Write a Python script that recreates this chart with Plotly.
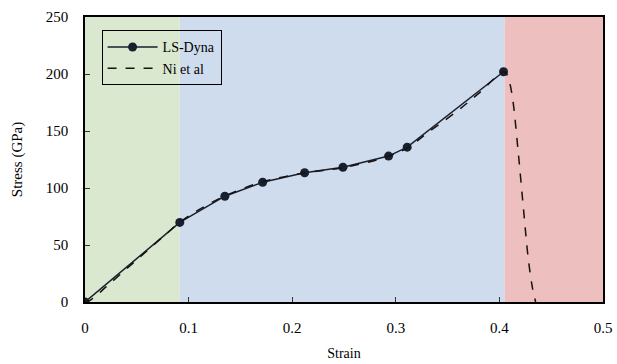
import plotly.graph_objects as go

# LS-Dyna simulation points
ls_strain = [0.0, 0.0915, 0.135, 0.1715, 0.212, 0.249, 0.293, 0.311, 0.404]
ls_stress = [0.0, 69.8, 92.8, 105.0, 113.4, 118.2, 128.0, 135.8, 202.0]

# Ni et al reference curve
ni_strain = [0.0, 0.004, 0.01, 0.02, 0.04, 0.06, 0.08, 0.0915, 0.11, 0.135, 0.17, 0.21,
             0.25, 0.29, 0.311, 0.33, 0.36, 0.38, 0.404, 0.407, 0.410, 0.413, 0.418,
             0.423, 0.428, 0.432, 0.435]
ni_stress = [0.0, 1.0, 5.0, 13.0, 29.0, 45.0, 61.0, 70.0, 81.0, 93.0, 105.0, 113.0,
             118.0, 127.0, 135.0, 148.0, 168.0, 183.0, 202.0, 200.0, 192.0, 177.0, 133.0,
             84.0, 37.0, 12.0, 0.0]

# Regions (strain ranges)
region_edges = [0.0, 0.0915, 0.405, 0.5]
region_colors = ["#d9e8cf", "#cfdcee", "#eebfbf"]

x_ticks = [0, 0.1, 0.2, 0.3, 0.4, 0.5]
x_ticktext = ["0", "0.1", "0.2", "0.3", "0.4", "0.5"]
y_ticks = [0, 50, 100, 150, 200, 250]

font_family = "Liberation Serif, Times New Roman, serif"
dark = "#17202e"

fig = go.Figure()

for i, c in enumerate(region_colors):
    fig.add_vrect(x0=region_edges[i], x1=region_edges[i + 1], fillcolor=c,
                  opacity=1, line_width=0, layer="below")

fig.add_trace(go.Scatter(
    x=ls_strain, y=ls_stress, mode="lines+markers", name="LS-Dyna",
    line=dict(color=dark, width=1.5),
    marker=dict(color=dark, size=9),
))
fig.add_trace(go.Scatter(
    x=ni_strain, y=ni_stress, mode="lines", name="Ni et al",
    line=dict(color="#1a1010", width=1.5, dash="dash"),
    line_shape="spline",
))

fig.update_layout(
    width=617, height=364,
    margin=dict(l=85, r=14, t=17, b=62, autoexpand=False),
    paper_bgcolor="white", plot_bgcolor="white",
    font=dict(family=font_family, size=15, color="black"),
    legend=dict(
        x=0.032, y=0.953, xanchor="left", yanchor="top",
        bgcolor="rgba(0,0,0,0)", bordercolor="black", borderwidth=1,
        font=dict(family=font_family, size=14, color="black"),
        tracegroupgap=2, itemwidth=50,
    ),
    showlegend=True,
)
fig.update_xaxes(
    range=[0, 0.5], tickvals=x_ticks, ticktext=x_ticktext,
    ticks="inside", ticklen=5, tickcolor="#333",
    showline=True, linecolor="black", linewidth=1.5, mirror=True,
    showgrid=False, zeroline=False, automargin=False,
    title=dict(text="Strain", font=dict(family=font_family, size=14), standoff=13),
    ticklabelstandoff=11,
    tickfont=dict(family=font_family, size=15),
)
fig.update_yaxes(
    range=[0, 250], tickvals=y_ticks,
    ticks="inside", ticklen=5, tickcolor="#333",
    showline=True, linecolor="black", linewidth=1.5, mirror=True,
    showgrid=False, zeroline=False, automargin=False,
    title=dict(text="Stress (GPa)", font=dict(family=font_family, size=15), standoff=20),
    ticklabelstandoff=12,
    tickfont=dict(family=font_family, size=15),
)

fig.write_html("out.html", post_script="document.body.style.margin='0';",
               config={"displayModeBar": False})
